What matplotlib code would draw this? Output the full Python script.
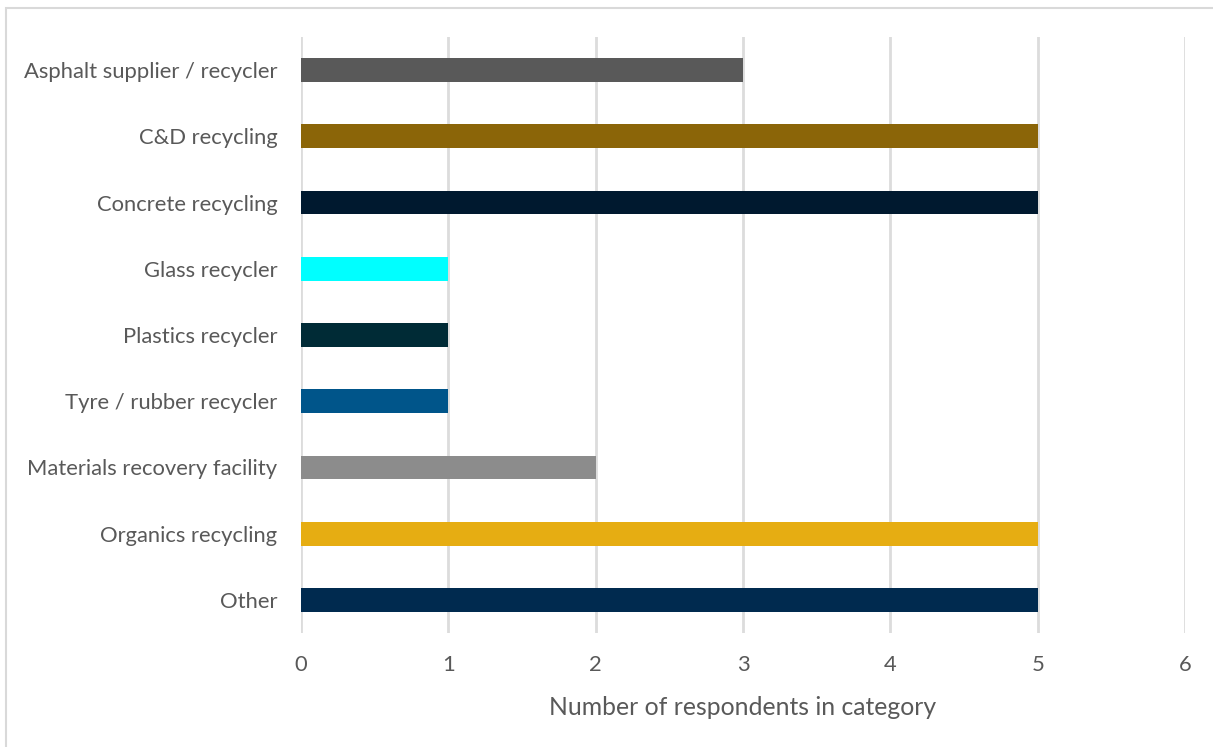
import matplotlib.pyplot as plt
from matplotlib.patches import Rectangle

categories = ["Asphalt supplier / recycler", "C&D recycling", "Concrete recycling",
              "Glass recycler", "Plastics recycler", "Tyre / rubber recycler",
              "Materials recovery facility", "Organics recycling", "Other"]
respondents = [3, 5, 5, 1, 1, 1, 2, 5, 5]
bar_colors = ["#595959", "#8b6508", "#00192f", "#00ffff", "#002b36",
              "#00558a", "#8c8c8c", "#e6ad12", "#002a4f"]
x_ticks = [0, 1, 2, 3, 4, 5, 6]

text_color = "#595959"
grid_color = "#dcdcdc"

plt.rcParams['font.family'] = ['Lato', 'DejaVu Sans']

fig = plt.figure(figsize=(12.13, 7.47), dpi=100)
ax = fig.add_axes([301 / 1213, 1 - 633 / 747, 884 / 1213, 596 / 747])

ypos = list(range(len(categories)))
ax.barh(ypos, respondents, height=0.36, color=bar_colors, zorder=3)

ax.set_xlim(0, 6)
ax.set_ylim(len(categories) - 0.5, -0.5)
ax.set_xticks(x_ticks)
ax.set_xticklabels([str(t) for t in x_ticks])
ax.set_yticks(ypos)
ax.set_yticklabels(categories)

ax.grid(axis='x', color=grid_color, linewidth=2, zorder=0)
ax.tick_params(axis='both', length=0, labelsize=15.8, labelcolor=text_color)
ax.tick_params(axis='x', pad=16)
ax.tick_params(axis='y', pad=17)
for side in ax.spines:
    ax.spines[side].set_visible(False)

ax.set_xlabel("Number of respondents in category", fontsize=17.8,
              color=text_color, labelpad=15)

# thin chart-area frame along the top and left edges
fig.patches.append(Rectangle((6 / 1213, -0.1), 1.2, 1.1 - 8 / 747,
                             transform=fig.transFigure, fill=False,
                             edgecolor="#d9d9d9", linewidth=1.5))

fig.savefig("out.png", dpi=100)
